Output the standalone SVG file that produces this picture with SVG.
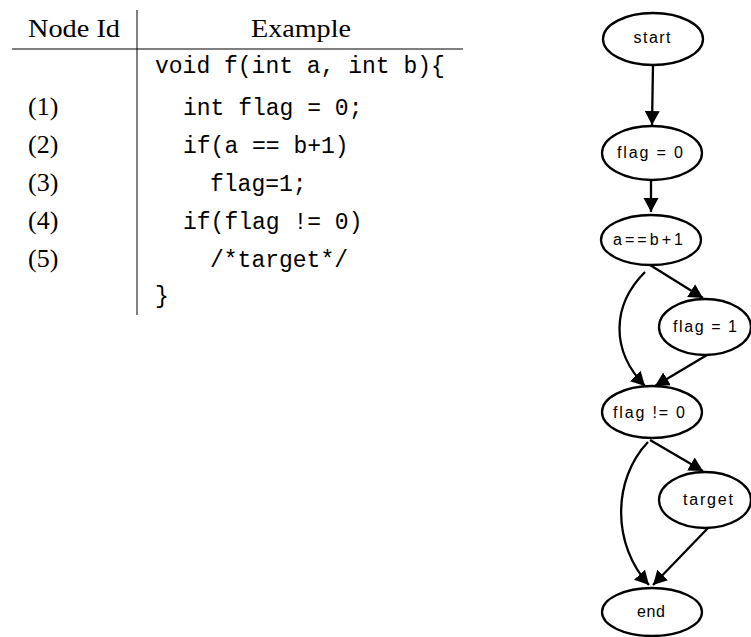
<svg xmlns="http://www.w3.org/2000/svg" width="751" height="637" viewBox="0 0 751 637">
  <style>
    .rule { stroke: #000; stroke-width: 1; fill: none; }
    .serif { font-family: "Liberation Serif", "DejaVu Serif", serif; font-size: 26px; fill: #000; }
    .mono { font-family: "Liberation Mono", "DejaVu Sans Mono", monospace; font-size: 23px; fill: #000; }
    .node ellipse { fill: #fff; stroke: #000; stroke-width: 2.3; }
    .node text { font-family: "Liberation Sans", Arial, sans-serif; font-size: 16px; fill: #000; text-anchor: middle; }
    .edge { fill: none; stroke: #000; stroke-width: 2.3; marker-end: url(#arrow); }
  </style>
  <defs>
    <marker id="arrow" markerUnits="userSpaceOnUse" markerWidth="16" markerHeight="16" refX="14" refY="8" orient="auto">
      <path d="M0,0.5 L14,8 L0,15.5 z" fill="#000"/>
    </marker>
  </defs>

  <!-- Table: node ids and source code -->
  <g id="table">
    <line class="rule" x1="137" y1="10" x2="137" y2="315"/>
    <line class="rule" x1="12" y1="49" x2="463" y2="49"/>
    <text class="serif" x="74" y="37" text-anchor="middle" textLength="92" lengthAdjust="spacingAndGlyphs">Node Id</text>
    <text class="serif" x="301" y="37" text-anchor="middle" textLength="100" lengthAdjust="spacingAndGlyphs">Example</text>
    <text class="serif" x="28" y="115">(1)</text>
    <text class="serif" x="28" y="153">(2)</text>
    <text class="serif" x="28" y="191">(3)</text>
    <text class="serif" x="28" y="229">(4)</text>
    <text class="serif" x="28" y="267">(5)</text>
    <text class="mono" x="155" y="73" xml:space="preserve">void f(int a, int b){</text>
    <text class="mono" x="183" y="115" xml:space="preserve">int flag = 0;</text>
    <text class="mono" x="183" y="153" xml:space="preserve">if(a == b+1)</text>
    <text class="mono" x="210" y="191" xml:space="preserve">flag=1;</text>
    <text class="mono" x="183" y="229" xml:space="preserve">if(flag != 0)</text>
    <text class="mono" x="210" y="267" xml:space="preserve">/*target*/</text>
    <text class="mono" x="155" y="303">}</text>
  </g>

  <!-- Control-flow graph edges -->
  <g id="edges">
    <path class="edge" d="M653,65 L652,125"/>
    <path class="edge" d="M651,180 L651,212"/>
    <path class="edge" d="M650,265 L703,298"/>
    <path class="edge" d="M645,272 C612,305 610,350 645,386"/>
    <path class="edge" d="M707,355 L655,386"/>
    <path class="edge" d="M650,440 L703,471"/>
    <path class="edge" d="M648,442 C612,480 612,545 649,585"/>
    <path class="edge" d="M708,528 L653,585"/>
  </g>

  <!-- Control-flow graph nodes -->
  <g id="node-start" class="node">
    <ellipse cx="653" cy="39" rx="50" ry="26"/>
    <text x="652" y="43" textLength="37" lengthAdjust="spacing">start</text>
  </g>
  <g id="node-flag0" class="node">
    <ellipse cx="652" cy="153" rx="50" ry="27"/>
    <text x="650" y="158" textLength="66" lengthAdjust="spacing">flag = 0</text>
  </g>
  <g id="node-cond1" class="node">
    <ellipse cx="651" cy="240" rx="50" ry="25"/>
    <text x="648" y="245" textLength="70" lengthAdjust="spacing">a==b+1</text>
  </g>
  <g id="node-flag1" class="node">
    <ellipse cx="705" cy="327" rx="46" ry="28"/>
    <text x="705" y="332" textLength="64" lengthAdjust="spacing">flag = 1</text>
  </g>
  <g id="node-cond2" class="node">
    <ellipse cx="652" cy="412" rx="50" ry="26"/>
    <text x="649" y="418" textLength="72" lengthAdjust="spacing">flag != 0</text>
  </g>
  <g id="node-target" class="node">
    <ellipse cx="705" cy="500" rx="46" ry="28"/>
    <text x="708" y="505" textLength="50" lengthAdjust="spacing">target</text>
  </g>
  <g id="node-end" class="node">
    <ellipse cx="652" cy="612" rx="50" ry="24"/>
    <text x="651" y="617" textLength="28" lengthAdjust="spacing">end</text>
  </g>
</svg>
